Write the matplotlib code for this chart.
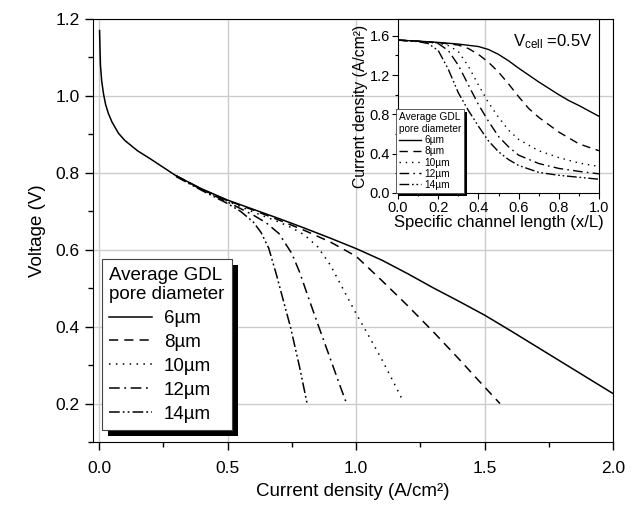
import matplotlib
matplotlib.use("Agg")
import matplotlib.pyplot as plt
from matplotlib.ticker import MultipleLocator, FormatStrFormatter
from matplotlib.patches import Rectangle

plt.rcParams['font.family'] = ['Liberation Sans', 'DejaVu Sans']
plt.rcParams['mathtext.fontset'] = 'custom'
plt.rcParams['mathtext.rm'] = 'Liberation Sans'
plt.rcParams['mathtext.it'] = 'Liberation Sans:italic'

# Légende : diamètre moyen des pores de la GDL
labels = ['6µm', '8µm', '10µm', '12µm', '14µm']

# Courbes de polarisation (densité de courant A/cm2, tension V)
i_6 = [0.0015, 0.005, 0.01, 0.017, 0.025, 0.036, 0.05, 0.075, 0.1, 0.15, 0.2, 0.3, 0.4,
       0.5, 0.6, 0.7, 0.8, 0.9, 1.0, 1.1, 1.2, 1.3, 1.4, 1.5, 1.6, 1.7, 1.8, 1.9, 2.0]
v_6 = [1.17, 1.08, 1.038, 1.005, 0.978, 0.954, 0.932, 0.903, 0.884, 0.857, 0.836, 0.792, 0.758,
       0.729, 0.705, 0.681, 0.656, 0.63, 0.603, 0.573, 0.538, 0.501, 0.466, 0.43, 0.39, 0.349,
       0.308, 0.267, 0.226]
i_8 = [0.3, 0.4, 0.5, 0.6, 0.7, 0.8, 0.9, 1.0, 1.1, 1.2, 1.3, 1.4, 1.5, 1.56]
v_8 = [0.792, 0.757, 0.728, 0.703, 0.677, 0.65, 0.62, 0.583, 0.52, 0.455, 0.387, 0.316, 0.243, 0.2]
i_10 = [0.3, 0.4, 0.5, 0.6, 0.7, 0.75, 0.8, 0.85, 0.9, 0.95, 1.0, 1.05, 1.1, 1.15, 1.18]
v_10 = [0.792, 0.756, 0.726, 0.698, 0.672, 0.657, 0.638, 0.608, 0.56, 0.497, 0.434, 0.375,
        0.315, 0.25, 0.21]
i_12 = [0.3, 0.4, 0.5, 0.6, 0.65, 0.7, 0.75, 0.78, 0.82, 0.86, 0.9, 0.93, 0.964]
v_12 = [0.792, 0.756, 0.724, 0.69, 0.67, 0.642, 0.59, 0.542, 0.465, 0.39, 0.316, 0.26, 0.198]
i_14 = [0.3, 0.4, 0.5, 0.55, 0.6, 0.63, 0.66, 0.69, 0.72, 0.745, 0.78, 0.81]
v_14 = [0.79, 0.754, 0.72, 0.7, 0.672, 0.645, 0.604, 0.535, 0.46, 0.398, 0.295, 0.198]

# Encart : densité de courant le long du canal (Vcell = 0.5 V)
xl_6 = [0, 0.1, 0.2, 0.3, 0.4, 0.45, 0.5, 0.55, 0.6, 0.65, 0.7, 0.75, 0.8, 0.85, 0.9, 0.95, 1.0]
j_6 = [1.555, 1.545, 1.532, 1.515, 1.49, 1.46, 1.41, 1.345, 1.27, 1.2, 1.13, 1.065, 1.0, 0.94,
       0.89, 0.835, 0.78]
xl_8 = [0, 0.1, 0.2, 0.3, 0.35, 0.4, 0.45, 0.5, 0.55, 0.6, 0.65, 0.7, 0.8, 0.9, 1.0]
j_8 = [1.555, 1.545, 1.53, 1.505, 1.47, 1.41, 1.33, 1.23, 1.11, 0.98, 0.86, 0.77, 0.62, 0.5, 0.43]
xl_10 = [0, 0.1, 0.2, 0.25, 0.3, 0.35, 0.4, 0.45, 0.5, 0.55, 0.6, 0.7, 0.8, 0.9, 1.0]
j_10 = [1.555, 1.543, 1.525, 1.5, 1.44, 1.29, 1.1, 0.92, 0.77, 0.64, 0.545, 0.43, 0.36, 0.305, 0.27]
xl_12 = [0, 0.1, 0.15, 0.2, 0.25, 0.3, 0.35, 0.4, 0.45, 0.5, 0.55, 0.6, 0.7, 0.8, 0.9, 1.0]
j_12 = [1.555, 1.543, 1.535, 1.52, 1.45, 1.3, 1.1, 0.9, 0.73, 0.575, 0.47, 0.385, 0.3, 0.25,
        0.22, 0.195]
xl_14 = [0, 0.1, 0.15, 0.2, 0.25, 0.3, 0.35, 0.4, 0.45, 0.5, 0.55, 0.6, 0.7, 0.8, 0.9, 1.0]
j_14 = [1.555, 1.54, 1.52, 1.45, 1.26, 1.02, 0.84, 0.68, 0.53, 0.42, 0.34, 0.28, 0.21, 0.18,
        0.16, 0.14]

main_series = [(i_6, v_6), (i_8, v_8), (i_10, v_10), (i_12, v_12), (i_14, v_14)]
inset_series = [(xl_6, j_6), (xl_8, j_8), (xl_10, j_10), (xl_12, j_12), (xl_14, j_14)]
styles = ['-', (0, (6, 4)), (0, (1, 3.5)), (0, (7, 3, 1.2, 3)), (0, (7, 2, 1.2, 2, 1.2, 2))]

fig = plt.figure(figsize=(6.42, 5.07), dpi=100)
ax = fig.add_axes([93 / 642, 1 - 442 / 507, 520 / 642, 423 / 507])
ins = fig.add_axes([398 / 642, 1 - 193 / 507, 201 / 642, 174 / 507])
ins.patch.set_alpha(0)


def shadow(axes, leg, off):
    # ombre noire décalée derrière le cadre de la légende
    fig.canvas.draw()
    bb = leg.get_frame().get_window_extent()
    inv = fig.transFigure.inverted()
    (x0, y0), (x1, y1) = inv.transform([[bb.x0 + off, bb.y0 - off], [bb.x1 + off, bb.y1 - off]])
    axes.add_patch(Rectangle((x0, y0), x1 - x0, y1 - y0, transform=fig.transFigure,
                             facecolor='black', edgecolor='none', zorder=4.5, clip_on=False))


# Graphique principal
for (x, y), ls, lab in zip(main_series, styles, labels):
    ax.plot(x, y, color='black', linestyle=ls, linewidth=1.1, label=lab)

ax.set_xlim(-0.024, 2.0)
ax.set_ylim(0.1, 1.2)
ax.xaxis.set_major_locator(MultipleLocator(0.5))
ax.xaxis.set_minor_locator(MultipleLocator(0.25))
ax.yaxis.set_major_locator(MultipleLocator(0.2))
ax.yaxis.set_minor_locator(MultipleLocator(0.1))
ax.xaxis.set_major_formatter(FormatStrFormatter('%.1f'))
ax.yaxis.set_major_formatter(FormatStrFormatter('%.1f'))
ax.tick_params(which='major', direction='out', length=6, width=1, labelsize=12.5)
ax.tick_params(axis='x', which='major', pad=8)
ax.tick_params(which='minor', direction='out', length=3.5, width=1)
ax.grid(which='major', color='#cccccc', linewidth=1)
ax.set_axisbelow(True)
ax.set_xlabel('Current density (A/cm²)', fontsize=13.5, labelpad=5)
ax.set_ylabel('Voltage (V)', fontsize=13.5, labelpad=7)

leg = ax.legend(title='Average GDL\npore diameter', title_fontsize=13.5, fontsize=13.5,
                loc='lower left', bbox_to_anchor=(0.017, 0.028), borderaxespad=0,
                alignment='left', handlelength=2.3, handletextpad=0.6, labelspacing=0.36,
                borderpad=0.4, fancybox=False, framealpha=1, edgecolor='#444444')
leg.get_frame().set_linewidth(0.8)

# Encart
for (x, y), ls, lab in zip(inset_series, styles, labels):
    ins.plot(x, y, color='black', linestyle=ls, linewidth=1.0, label=lab)

ins.set_xlim(0, 1.0)
ins.set_ylim(0, 1.77)
ins.xaxis.set_major_locator(MultipleLocator(0.2))
ins.xaxis.set_minor_locator(MultipleLocator(0.1))
ins.yaxis.set_major_locator(MultipleLocator(0.4))
ins.yaxis.set_minor_locator(MultipleLocator(0.2))
ins.xaxis.set_major_formatter(FormatStrFormatter('%.1f'))
ins.yaxis.set_major_formatter(FormatStrFormatter('%.1f'))
ins.tick_params(which='major', direction='out', length=4, width=0.8, labelsize=10.5, pad=2)
ins.tick_params(which='minor', direction='out', length=2, width=0.8)
for s in ins.spines.values():
    s.set_linewidth(0.8)
ins.set_xlabel('Specific channel length (x/L)', fontsize=12, labelpad=0)
ins.set_ylabel('Current density (A/cm²)', fontsize=11.3, labelpad=1)
ins.text(0.97, 0.87, r'V$_{\mathrm{cell}}$ =0.5V', transform=ins.transAxes, ha='right',
         va='center', fontsize=12)

leg2 = ins.legend(title='Average GDL\npore diameter', title_fontsize=7.3, fontsize=7.3,
                  loc='lower left', bbox_to_anchor=(-0.01, 0.0), borderaxespad=0,
                  alignment='left', handlelength=2.2, handletextpad=0.3, labelspacing=0.12,
                  borderpad=0.3, fancybox=False, framealpha=1, edgecolor='#444444')
leg2.get_frame().set_linewidth(0.6)

shadow(ax, leg, 6)
shadow(ins, leg2, 3)

fig.savefig('out.png', dpi=100)
